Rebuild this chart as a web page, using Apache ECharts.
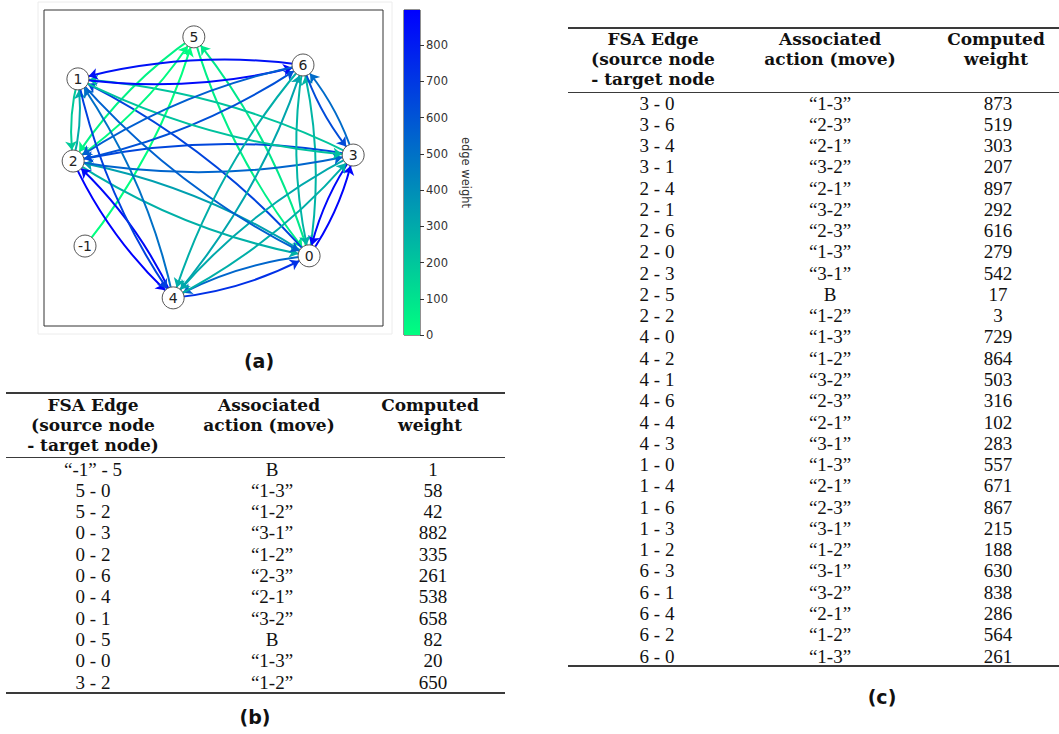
<!DOCTYPE html>
<html><head><meta charset="utf-8">
<script src="https://cdn.jsdelivr.net/npm/echarts/dist/echarts.min.js"></script>
<style>
html,body{margin:0;padding:0;background:#fff;width:1059px;height:734px;overflow:hidden;position:relative}
#chart{position:absolute;left:0;top:0;width:500px;height:345px}
.t{position:absolute;white-space:nowrap;transform:translate(-50%,-50%);color:#111;line-height:1}
.h{font-family:"DejaVu Serif";font-weight:bold;font-size:17px}
.d{font-family:"Liberation Serif";font-size:19px}
.rule{position:absolute;background:#3a3a3a}
.cap{font-family:"DejaVu Sans";font-weight:bold;font-size:19px;color:#111}
</style></head><body>
<div id="chart"></div>
<script>
// ---- graph nodes (layout, axis units 0..100) ----
const nodeNames = ['0', '1', '2', '3', '4', '5', '6', '-1'];
const nodeX = [78.2, 10.0, 8.6, 91.2, 38.1, 44.2, 76.4, 12.1];
const nodeY = [22.2, 78.2, 52.2, 54.1, 8.9, 91.5, 82.6, 25.3];

// ---- table (b) ----
const tableBEdges = ['“-1” - 5', '5 - 0', '5 - 2', '0 - 3', '0 - 2', '0 - 6', '0 - 4', '0 - 1', '0 - 5', '0 - 0', '3 - 2'];
const tableBActions = ['B', '“1-3”', '“1-2”', '“3-1”', '“1-2”', '“2-3”', '“2-1”', '“3-2”', 'B', '“1-3”', '“1-2”'];
const tableBWeights = [1, 58, 42, 882, 335, 261, 538, 658, 82, 20, 650];

// ---- table (c) ----
const tableCEdges = ['3 - 0', '3 - 6', '3 - 4', '3 - 1', '2 - 4', '2 - 1', '2 - 6', '2 - 0', '2 - 3', '2 - 5', '2 - 2', '4 - 0', '4 - 2', '4 - 1', '4 - 6', '4 - 4', '4 - 3', '1 - 0', '1 - 4', '1 - 6', '1 - 3', '1 - 2', '6 - 3', '6 - 1', '6 - 4', '6 - 2', '6 - 0'];
const tableCActions = ['“1-3”', '“2-3”', '“2-1”', '“3-2”', '“2-1”', '“3-2”', '“2-3”', '“1-3”', '“3-1”', 'B', '“1-2”', '“1-3”', '“1-2”', '“3-2”', '“2-3”', '“2-1”', '“3-1”', '“1-3”', '“2-1”', '“2-3”', '“3-1”', '“1-2”', '“3-1”', '“3-2”', '“2-1”', '“1-2”', '“1-3”'];
const tableCWeights = [873, 519, 303, 207, 897, 292, 616, 279, 542, 17, 3, 729, 864, 503, 316, 102, 283, 557, 671, 867, 215, 188, 630, 838, 286, 564, 261];

// ---- colour bar ticks ----
const colorbarTicks = [0, 100, 200, 300, 400, 500, 600, 700, 800];

const headerCol1B = ['FSA Edge', '(source node', '- target node)'];
const headerCol1C = ['FSA Edge', '(source node', '- target node'];
const headerCol2 = ['Associated', 'action (move)'];
const headerCol3 = ['Computed', 'weight'];

const allEdges = tableBEdges.concat(tableCEdges);
const allWeights = tableBWeights.concat(tableCWeights);
const wMax = Math.max.apply(null, allWeights);

function weightColor(w) {
  const t = Math.min(1, w / wMax);
  const g = Math.round(255 * (1 - t));
  const b = Math.round(255 * (0.5 + 0.5 * t));
  return 'rgb(0,' + g + ',' + b + ')';
}

const links = [];
allEdges.forEach(function (e, i) {
  const p = e.replace(/[“”]/g, '').split(' - ');
  if (p[0] === p[1]) return; // self loops are not drawn in the figure
  links.push({
    source: p[0], target: p[1], value: allWeights[i],
    lineStyle: { color: weightColor(allWeights[i]), width: 2, curveness: -0.1, opacity: 1 }
  });
});

const chart = echarts.init(document.getElementById('chart'), null, { renderer: 'svg' });
chart.setOption({
  animation: false,
  grid: [
    { left: 44, top: 10, width: 339, height: 316, show: true, borderColor: '#333', borderWidth: 1, backgroundColor: 'transparent' },
    { left: 404, top: 10, width: 16, height: 325, show: true, borderColor: '#222', borderWidth: 1, backgroundColor: 'transparent' }
  ],
  xAxis: [
    { gridIndex: 0, type: 'value', min: 0, max: 100, show: false },
    { gridIndex: 1, type: 'category', data: ['w'], show: false }
  ],
  yAxis: [
    { gridIndex: 0, type: 'value', min: 0, max: 100, show: false },
    {
      gridIndex: 1, type: 'value', min: 0, max: wMax, interval: 100, position: 'right',
      axisLine: { show: false }, splitLine: { show: false },
      axisTick: { show: true, length: 4, lineStyle: { color: '#333' }, customValues: colorbarTicks },
      axisLabel: { show: true, fontFamily: 'DejaVu Sans', fontSize: 11.5, color: '#333', margin: 6, customValues: colorbarTicks },
      name: 'edge weight', nameLocation: 'middle', nameRotate: -90, nameGap: 40,
      nameTextStyle: { fontFamily: 'DejaVu Sans', fontSize: 11.5, color: '#333' }
    }
  ],
  graphic: [
    { type: 'rect', shape: { x: 38, y: 2, width: 354, height: 332 }, style: { fill: 'none', stroke: '#ececec', lineWidth: 1 }, silent: true, z: -10 }
  ],
  series: [
    {
      type: 'bar', xAxisIndex: 1, yAxisIndex: 1, data: [wMax], barWidth: '100%', silent: true,
      itemStyle: {
        color: { type: 'linear', x: 0, y: 0, x2: 0, y2: 1, colorStops: [{ offset: 0, color: weightColor(wMax) }, { offset: 1, color: weightColor(0) }] }
      }
    },
    {
      type: 'graph', coordinateSystem: 'cartesian2d', xAxisIndex: 0, yAxisIndex: 0,
      symbol: 'circle', symbolSize: 22,
      edgeSymbol: ['none', 'arrow'], edgeSymbolSize: [0, 9],
      itemStyle: { color: '#fff', borderColor: '#555', borderWidth: 1 },
      label: { show: true, position: 'inside', fontFamily: 'DejaVu Sans', fontSize: 14, color: '#222' },
      emphasis: { disabled: true },
      data: nodeNames.map(function (n, i) { return { name: n, value: [nodeX[i], nodeY[i]] }; }),
      links: links
    }
  ]
});

// ---- tables as real text ----
function addText(cls, txt, x, y) {
  const d = document.createElement('div');
  d.className = 't ' + cls; d.textContent = txt;
  d.style.left = x + 'px'; d.style.top = y + 'px';
  document.body.appendChild(d);
}
function addRule(x1, x2, y, h) {
  const d = document.createElement('div');
  d.className = 'rule';
  d.style.left = x1 + 'px'; d.style.width = (x2 - x1) + 'px';
  d.style.top = (y - h / 2) + 'px'; d.style.height = h + 'px';
  document.body.appendChild(d);
}
function buildTable(cfg, edges, actions, weights, head1) {
  addRule(cfg.x1, cfg.x2, cfg.top, 1.6);
  head1.forEach(function (s, i) { addText('h', s, cfg.hc[0], cfg.hy[i]); });
  headerCol2.forEach(function (s, i) { addText('h', s, cfg.hc[1], cfg.hy[i]); });
  headerCol3.forEach(function (s, i) { addText('h', s, cfg.hc[2], cfg.hy[i]); });
  addRule(cfg.x1, cfg.x2, cfg.mid, 1);
  edges.forEach(function (e, i) {
    const y = cfg.row0 + i * cfg.rowH;
    addText('d', e, cfg.dc[0], y);
    addText('d', actions[i], cfg.dc[1], y);
    addText('d', String(weights[i]), cfg.dc[2], y);
  });
  addRule(cfg.x1, cfg.x2, cfg.bottom, 1.6);
}
buildTable({ x1: 6, x2: 505, top: 393, hy: [405, 425, 445], mid: 457, row0: 468.5, rowH: 21.3, bottom: 693,
  hc: [93, 269, 430], dc: [93, 272, 433] }, tableBEdges, tableBActions, tableBWeights, headerCol1B);
buildTable({ x1: 568, x2: 1059, top: 28, hy: [38.5, 58.5, 79], mid: 92, row0: 102.5, rowH: 21.27, bottom: 666,
  hc: [653, 830, 996], dc: [657, 830, 998] }, tableCEdges, tableCActions, tableCWeights, headerCol1C);

addText('cap', '(a)', 259, 361);
addText('cap', '(b)', 255, 717);
addText('cap', '(c)', 882, 697);
</script>
</body></html>
